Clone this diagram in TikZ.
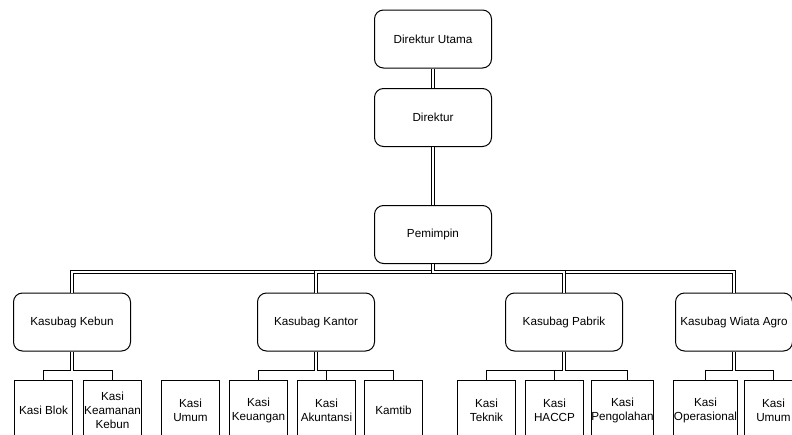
\documentclass[tikz,border=0pt]{standalone}
\usepackage{fontspec}
\setmainfont{Liberation Sans}
\begin{document}
\begin{tikzpicture}[x=1pt,y=-1pt,
  every node/.style={font=\fontsize{11.7}{14}\selectfont, align=center, inner sep=0pt},
  head/.style={draw, line width=1pt, rounded corners=9pt, minimum width=117pt, minimum height=58pt},
  leaf/.style={draw, line width=1pt, minimum width=58pt, minimum height=60pt},
  dbl/.style={draw, line width=1pt, double, double distance=2pt},
  sgl/.style={draw, line width=1pt}]
\useasboundingbox (0,0) rectangle (792,434);
% top chain
\node[head] (du) at (433,39) {Direktur Utama};
\node[head] (dir) at (433,117.5) {Direktur};
\node[head] (pem) at (433,234.5) {Pemimpin};
% kasubag
\node[head] (kkeb) at (72,322) {Kasubag Kebun};
\node[head] (kkan) at (316,322) {Kasubag Kantor};
\node[head] (kpab) at (564,322) {Kasubag Pabrik};
\node[head] (kwia) at (734,322) {Kasubag Wiata Agro};
% leaves
\node[leaf] (blok) at (43.5,410.5) {Kasi Blok};
\node[leaf] (keam) at (112.5,410.5) {Kasi\\Keamanan\\Kebun};
\node[leaf] (umum) at (190.5,410.5) {Kasi\\Umum};
\node[leaf] (keu) at (258.5,410.5) {Kasi\\Keuangan};
\node[leaf] (aku) at (326.5,410.5) {Kasi\\Akuntansi};
\node[leaf] (kam) at (393.5,410.5) {Kamtib};
\node[leaf] (tek) at (486.5,410.5) {Kasi\\Teknik};
\node[leaf] (hac) at (554.5,410.5) {Kasi\\HACCP};
\node[leaf] (pen) at (622.5,410.5) {Kasi\\Pengolahan};
\node[leaf] (ope) at (705.5,410.5) {Kasi\\Operasional};
\node[leaf] (umu2) at (773.5,410.5) {Kasi\\Umum};
% double connectors top
\draw[dbl] (du.south) -- (dir.north);
\draw[dbl] (dir.south) -- (pem.north);
\coordinate (hb) at (0,272);
\coordinate (hp) at (pem.south |- hb);
\draw[dbl] (pem.south) -- (hp) -- (kkeb.north |- hb) -- (kkeb.north);
\draw[dbl] (pem.south) -- (hp) -- (kwia.north |- hb) -- (kwia.north);
\draw[dbl] (pem.south) -- (hp) -- (kkan.north |- hb) -- (kkan.north);
\draw[dbl] (pem.south) -- (hp) -- (kpab.north |- hb) -- (kpab.north);
% junctions
\coordinate (lb) at (0,370.5);
\coordinate (jkeb) at (kkeb.south |- lb);
\coordinate (jkan) at (kkan.south |- lb);
\coordinate (jpab) at (kpab.south |- lb);
\coordinate (jwia) at (kwia.south |- lb);
\draw[sgl] (jkeb) -- (blok.north |- lb) -- (blok.north);
\draw[sgl] (jkeb) -- (keam.north |- lb) -- (keam.north);
\draw[sgl] (jkan) -- (keu.north |- lb) -- (keu.north);
\draw[sgl] (jkan) -- (aku.north |- lb) -- (aku.north);
\draw[sgl] (jkan) -- (kam.north |- lb) -- (kam.north);
\draw[sgl] (jpab) -- (tek.north |- lb) -- (tek.north);
\draw[sgl] (jpab) -- (hac.north |- lb) -- (hac.north);
\draw[sgl] (jpab) -- ([xshift=4.5pt]pen.north |- lb) -- ([xshift=4.5pt]pen.north);
\draw[sgl] (jwia) -- (ope.north |- lb) -- (ope.north);
\draw[sgl] (jwia) -- (umu2.north |- lb) -- (umu2.north);
\draw[dbl] (kkeb.south) -- (jkeb);
\draw[dbl] (kkan.south) -- (jkan);
\draw[dbl] (kpab.south) -- (jpab);
\draw[dbl] (kwia.south) -- (jwia);
\end{tikzpicture}
\end{document}
